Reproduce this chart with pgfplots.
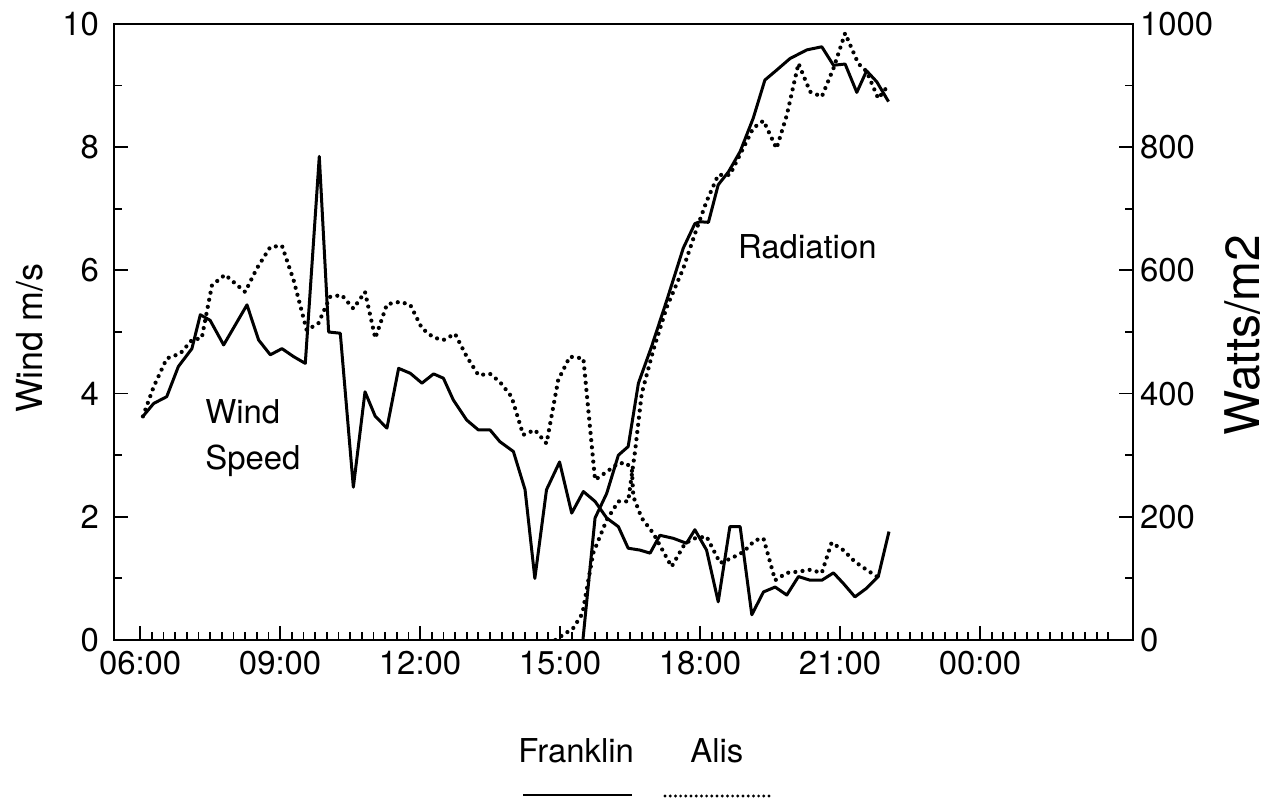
\documentclass[border=0pt]{standalone}
\usepackage{fontspec}
\setmainfont{TeX Gyre Heros}
\usepackage{pgfplots}
\pgfplotsset{compat=1.18}

\newcommand{\lab}{\fontsize{16.5}{20}\selectfont}

\begin{document}
\begin{tikzpicture}
\useasboundingbox (-57bp,-82bp) rectangle (579bp,320bp);
\pgfplotsset{
  every axis/.append style={
    scale only axis, width=509.5bp, height=308bp,
    at={(0,0)}, anchor=south west,
    xmin=5.44, xmax=27.28,
    axis line style={line width=1.1bp},
    tick style={black, line width=0.9bp},
    major tick length=7bp, minor tick length=4bp,
    tick label style={font=\lab},
    /pgf/number format/assume math mode=true,
    /pgf/number format/1000 sep={},
  },
  franklin/.style={black, line width=1.5bp, line join=round},
  alis/.style={black, line width=2.1bp, line cap=round, dash pattern=on 0bp off 3.6bp},
}

% wind speed, left axis
\begin{axis}[
  ymin=0, ymax=10,
  xtick={6,9,12,15,18,21,24},
  xticklabels={06:00,09:00,12:00,15:00,18:00,21:00,00:00},
  minor xtick={6.25,6.5,...,26.75},
  ytick={0,2,...,10}, minor ytick={1,3,...,9},
  xtick pos=bottom, ytick pos=left,
  ylabel={Wind m/s},
  ylabel style={at={(axis description cs:-0.0824,0.49)}, anchor=center,
                font=\fontsize{18}{22}\selectfont},
  yticklabel style={xshift=-4bp},
  xticklabel style={yshift=-2bp},
]
% Franklin
\addplot[franklin] coordinates {
  (6.06,3.63)(6.29,3.84)(6.57,3.95)(6.82,4.44)(7.11,4.73)(7.29,5.28)(7.50,5.19)
  (7.79,4.79)(8.29,5.44)(8.54,4.87)(8.79,4.63)(9.04,4.73)(9.29,4.60)(9.54,4.49)
  (9.84,7.85)(10.04,5.00)(10.29,4.98)(10.57,2.48)(10.82,4.03)(11.04,3.63)(11.29,3.44)
  (11.54,4.41)(11.79,4.33)(12.04,4.17)(12.29,4.32)(12.50,4.25)(12.71,3.90)(13.00,3.57)
  (13.25,3.41)(13.50,3.41)(13.71,3.22)(14.00,3.06)(14.25,2.44)(14.46,1.00)(14.71,2.44)
  (14.99,2.89)(15.25,2.06)(15.50,2.41)(15.75,2.25)(16.00,1.98)(16.25,1.84)(16.46,1.49)
  (16.71,1.46)(16.93,1.41)(17.14,1.70)(17.43,1.65)(17.71,1.57)(17.89,1.79)(18.14,1.46)
  (18.39,0.62)(18.64,1.84)(18.86,1.84)(19.11,0.41)(19.36,0.78)(19.61,0.86)(19.86,0.73)
  (20.11,1.03)(20.36,0.97)(20.61,0.97)(20.86,1.09)(21.07,0.92)(21.32,0.70)(21.57,0.84)
  (21.82,1.03)(22.05,1.76)
};
% Alis
\addplot[alis] coordinates {
  (6.06,3.63)(6.29,4.11)(6.57,4.57)(6.86,4.65)(7.11,4.87)(7.32,4.90)(7.54,5.76)
  (7.82,5.93)(8.25,5.65)(8.50,6.03)(8.79,6.38)(9.04,6.40)(9.29,5.84)(9.57,5.03)
  (9.82,5.14)(10.07,5.57)(10.32,5.60)(10.57,5.38)(10.82,5.65)(11.04,4.90)(11.29,5.45)
  (11.57,5.49)(11.79,5.44)(12.04,5.06)(12.29,4.91)(12.50,4.87)(12.75,4.97)(13.00,4.60)
  (13.25,4.30)(13.50,4.32)(13.71,4.19)(13.96,3.95)(14.21,3.33)(14.46,3.41)(14.71,3.19)
  (14.96,4.22)(15.21,4.60)(15.50,4.57)(15.75,2.60)(16.00,2.73)(16.25,2.87)(16.43,2.87)
  (16.54,2.76)(16.57,2.33)(16.75,1.98)(17.00,1.73)(17.39,1.19)(17.68,1.57)(17.89,1.65)
  (18.14,1.68)(18.43,1.25)(18.68,1.33)(18.93,1.43)(19.18,1.62)(19.36,1.65)(19.61,0.97)
  (19.86,1.09)(20.11,1.11)(20.36,1.14)(20.61,1.09)(20.82,1.58)(21.07,1.46)(21.32,1.27)
  (21.57,1.14)(21.79,1.03)
};
\node[anchor=base west, inner sep=0, font=\lab] at (axis cs:7.39,3.51) {Wind};
\node[anchor=base west, inner sep=0, font=\lab] at (axis cs:7.39,2.76) {Speed};
\node[anchor=base west, inner sep=0, font=\lab] at (axis cs:18.81,6.20) {Radiation};
\end{axis}

% radiation, right axis
\begin{axis}[
  ymin=0, ymax=1000,
  axis x line=none, axis y line*=right,
  ytick={0,200,...,1000}, minor ytick={100,300,...,900},
  ylabel={Watts/m2},
  ylabel style={at={(axis description cs:1.124,0.495)}, anchor=base, inner sep=0pt,
                font=\fontsize{24}{28}\selectfont},
  yticklabel style={anchor=west},
]
% Franklin
\addplot[franklin] coordinates {
  (15.49,0)(15.61,92)(15.75,198)(16.00,238)(16.25,300)(16.46,314)(16.68,417)
  (16.96,476)(17.29,552)(17.64,636)(17.89,676)(18.00,679)(18.18,678)(18.39,739)
  (18.61,760)(18.86,793)(19.14,847)(19.39,909)(19.64,925)(19.93,944)(20.29,958)
  (20.61,963)(20.86,933)(21.11,935)(21.36,889)(21.57,924)(21.79,906)(22.04,874)
};
% Alis
\addplot[alis] coordinates {
  (14.90,0)(15.28,19)(15.48,43)(15.71,141)(16.00,195)(16.25,225)(16.46,225)
  (16.61,308)(16.75,400)(17.00,471)(17.29,541)(17.64,603)(17.93,668)(18.14,712)
  (18.39,755)(18.64,755)(18.89,793)(19.14,831)(19.36,843)(19.64,798)(19.86,852)
  (20.11,936)(20.36,890)(20.61,882)(20.86,928)(21.11,985)(21.39,936)(21.57,923)
  (21.82,879)(22.04,901)
};
\end{axis}

% legend below the plot
\node[anchor=base west, inner sep=0, font=\lab] at (202bp,-61bp) {Franklin};
\node[anchor=base west, inner sep=0, font=\lab] at (288bp,-61bp) {Alis};
\draw[line width=1.4bp] (204.5bp,-77.5bp) -- (259bp,-77.5bp);
\draw[line width=1.6bp, line cap=round, dash pattern=on 0bp off 2.6bp]
  (275.5bp,-78bp) -- (328bp,-78bp);
\end{tikzpicture}
\end{document}
